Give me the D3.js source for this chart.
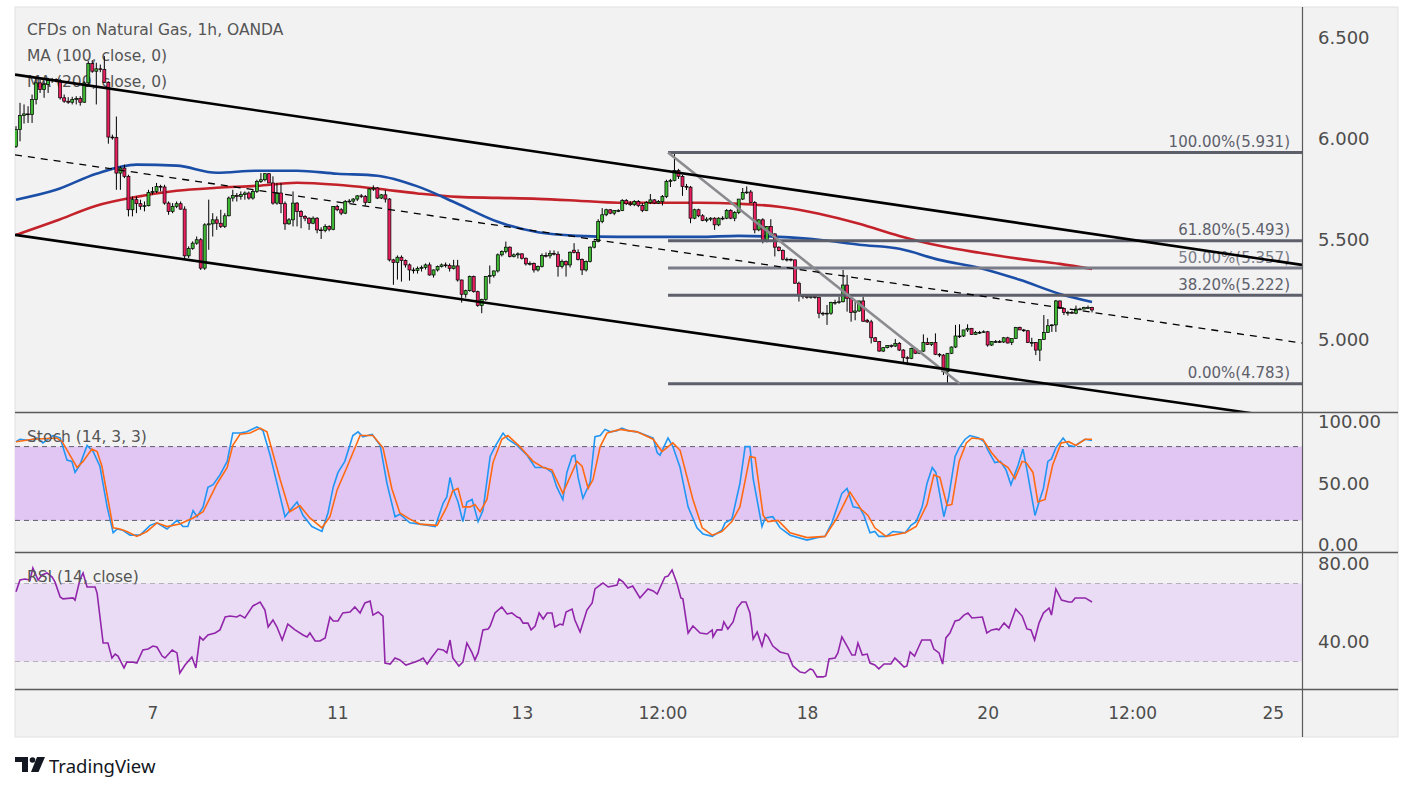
<!DOCTYPE html>
<html>
<head>
<meta charset="utf-8">
<script src="https://cdn.jsdelivr.net/npm/d3@7"></script>
<style>
  body { margin: 0; background: #ffffff; }
  svg text { font-family: "DejaVu Sans", "Noto Sans", sans-serif; }
</style>
</head>
<body>
<div id="chart"></div>
<script>
// hourly candles, [open, high, low, close]
const ohlc = [
[5.962,6.062,5.954,6.045],[6.045,6.178,5.987,6.115],[6.115,6.17,6.075,6.123],[6.123,6.161,6.078,6.12],
[6.12,6.219,6.078,6.194],[6.194,6.302,6.17,6.277],[6.277,6.294,6.227,6.244],[6.244,6.285,6.203,6.269],
[6.269,6.302,6.227,6.29],[6.29,6.302,6.277,6.294],[6.294,6.30,6.28,6.289],[6.289,6.297,6.194,6.203],
[6.203,6.219,6.178,6.186],[6.186,6.206,6.173,6.181],[6.181,6.208,6.17,6.194],[6.194,6.211,6.17,6.199],
[6.199,6.211,6.164,6.181],[6.181,6.285,6.178,6.277],[6.277,6.385,6.269,6.373],[6.373,6.39,6.327,6.335],
[6.335,6.377,6.17,6.347],[6.347,6.368,6.33,6.343],[6.343,6.41,6.277,6.28],[6.28,6.285,5.975,6.008],
[6.008,6.02,5.995,6.006],[6.006,6.11,5.746,5.829],[5.829,5.863,5.746,5.854],[5.854,5.871,5.804,5.813],
[5.813,5.821,5.614,5.647],[5.647,5.713,5.614,5.697],[5.697,5.713,5.63,5.677],[5.677,5.697,5.647,5.664],
[5.664,5.688,5.639,5.667],[5.667,5.746,5.664,5.733],[5.733,5.76,5.722,5.738],[5.738,5.78,5.73,5.763],
[5.763,5.771,5.738,5.76],[5.76,5.771,5.672,5.68],[5.68,5.688,5.622,5.639],[5.639,5.68,5.63,5.664],
[5.664,5.688,5.655,5.677],[5.677,5.688,5.647,5.65],[5.65,5.664,5.407,5.418],[5.418,5.465,5.407,5.455],
[5.455,5.49,5.448,5.481],[5.481,5.514,5.473,5.498],[5.498,5.506,5.348,5.357],[5.357,5.58,5.348,5.572],
[5.572,5.697,5.448,5.577],[5.577,5.63,5.514,5.597],[5.597,5.614,5.547,5.58],[5.58,5.647,5.556,5.564],
[5.564,5.63,5.556,5.617],[5.617,5.713,5.614,5.705],[5.705,5.746,5.688,5.718],[5.718,5.73,5.688,5.713],
[5.713,5.738,5.697,5.722],[5.722,5.738,5.697,5.73],[5.73,5.738,5.697,5.705],[5.705,5.746,5.697,5.738],
[5.738,5.796,5.73,5.788],[5.788,5.829,5.78,5.796],[5.796,5.829,5.788,5.826],[5.826,5.829,5.78,5.78],
[5.78,5.813,5.672,5.68],[5.68,5.78,5.672,5.73],[5.73,5.78,5.63,5.677],[5.677,5.688,5.547,5.577],
[5.577,5.606,5.572,5.597],[5.597,5.738,5.564,5.68],[5.68,5.685,5.564,5.638],[5.638,5.645,5.555,5.614],
[5.614,5.62,5.59,5.605],[5.605,5.61,5.547,5.58],[5.58,5.614,5.575,5.605],[5.605,5.61,5.53,5.547],
[5.547,5.56,5.502,5.544],[5.544,5.575,5.535,5.564],[5.564,5.57,5.54,5.55],[5.55,5.665,5.545,5.663],
[5.663,5.672,5.64,5.647],[5.647,5.655,5.62,5.63],[5.63,5.695,5.625,5.688],[5.688,5.70,5.68,5.69],
[5.69,5.705,5.68,5.70],[5.70,5.72,5.69,5.716],[5.716,5.725,5.705,5.713],[5.713,5.72,5.667,5.683],
[5.683,5.755,5.68,5.75],[5.75,5.768,5.74,5.755],[5.755,5.76,5.70,5.705],[5.705,5.725,5.70,5.721],
[5.721,5.745,5.683,5.70],[5.70,5.705,5.39,5.398],[5.398,5.403,5.274,5.385],[5.385,5.42,5.30,5.411],
[5.411,5.42,5.29,5.395],[5.395,5.40,5.36,5.373],[5.373,5.38,5.295,5.348],[5.348,5.36,5.33,5.345],
[5.345,5.365,5.33,5.356],[5.356,5.37,5.34,5.361],[5.361,5.38,5.35,5.373],[5.373,5.385,5.32,5.323],
[5.323,5.35,5.31,5.348],[5.348,5.37,5.34,5.365],[5.365,5.38,5.36,5.373],[5.373,5.385,5.36,5.37],
[5.37,5.38,5.34,5.356],[5.356,5.398,5.35,5.368],[5.368,5.398,5.29,5.298],[5.298,5.30,5.186,5.227],
[5.227,5.25,5.21,5.245],[5.245,5.32,5.24,5.315],[5.315,5.32,5.235,5.24],[5.24,5.245,5.165,5.171],
[5.171,5.205,5.133,5.202],[5.202,5.318,5.195,5.315],[5.315,5.37,5.28,5.32],[5.32,5.345,5.31,5.343],
[5.343,5.43,5.335,5.423],[5.423,5.445,5.415,5.439],[5.439,5.489,5.43,5.461],[5.461,5.465,5.41,5.415],
[5.415,5.43,5.41,5.423],[5.423,5.435,5.405,5.428],[5.428,5.43,5.40,5.406],[5.406,5.41,5.37,5.378],
[5.378,5.39,5.37,5.38],[5.38,5.385,5.335,5.348],[5.348,5.37,5.34,5.365],[5.365,5.43,5.36,5.42],
[5.42,5.435,5.41,5.418],[5.418,5.445,5.405,5.43],[5.43,5.445,5.42,5.426],[5.426,5.44,5.315,5.365],
[5.365,5.40,5.355,5.39],[5.39,5.395,5.315,5.373],[5.373,5.44,5.36,5.436],[5.446,5.481,5.43,5.434],
[5.434,5.45,5.395,5.40],[5.40,5.405,5.323,5.348],[5.348,5.395,5.34,5.39],[5.39,5.465,5.385,5.461],
[5.461,5.495,5.455,5.489],[5.489,5.60,5.485,5.589],[5.589,5.655,5.58,5.622],[5.622,5.652,5.615,5.647],
[5.647,5.65,5.625,5.63],[5.63,5.645,5.62,5.643],[5.643,5.65,5.635,5.643],[5.643,5.70,5.64,5.693],
[5.693,5.70,5.67,5.677],[5.677,5.69,5.665,5.672],[5.672,5.695,5.665,5.688],[5.688,5.695,5.66,5.668],
[5.668,5.68,5.635,5.643],[5.643,5.69,5.64,5.683],[5.683,5.725,5.675,5.696],[5.696,5.70,5.675,5.68],
[5.68,5.695,5.675,5.688],[5.688,5.72,5.668,5.713],[5.713,5.796,5.705,5.788],[5.788,5.80,5.76,5.793],
[5.793,5.935,5.788,5.842],[5.842,5.85,5.80,5.813],[5.813,5.82,5.716,5.763],[5.763,5.775,5.745,5.759],
[5.759,5.765,5.58,5.605],[5.605,5.652,5.60,5.647],[5.647,5.652,5.61,5.617],[5.617,5.625,5.59,5.594],
[5.594,5.61,5.585,5.60],[5.60,5.61,5.59,5.605],[5.605,5.61,5.547,5.572],[5.572,5.61,5.565,5.605],
[5.605,5.615,5.595,5.605],[5.605,5.65,5.60,5.643],[5.643,5.65,5.60,5.605],[5.605,5.64,5.59,5.633],
[5.633,5.70,5.625,5.70],[5.70,5.755,5.695,5.733],[5.733,5.763,5.725,5.735],[5.735,5.745,5.68,5.683],
[5.683,5.69,5.53,5.547],[5.547,5.60,5.54,5.597],[5.597,5.605,5.48,5.489],[5.489,5.565,5.485,5.564],
[5.564,5.60,5.52,5.527],[5.527,5.53,5.415,5.461],[5.461,5.465,5.44,5.444],[5.444,5.45,5.395,5.401],
[5.401,5.41,5.39,5.401],[5.401,5.405,5.39,5.398],[5.398,5.40,5.28,5.282],[5.282,5.29,5.191,5.219],
[5.219,5.225,5.205,5.216],[5.216,5.225,5.205,5.212],[5.212,5.225,5.205,5.216],[5.216,5.222,5.205,5.211],
[5.211,5.215,5.108,5.133],[5.133,5.14,5.12,5.129],[5.129,5.174,5.075,5.133],[5.133,5.19,5.125,5.187],
[5.187,5.2,5.175,5.187],[5.187,5.215,5.18,5.19],[5.19,5.348,5.187,5.273],[5.273,5.323,5.141,5.207],
[5.207,5.21,5.091,5.137],[5.137,5.19,5.098,5.144],[5.144,5.195,5.14,5.194],[5.194,5.215,5.091,5.093],
[5.098,5.105,5.085,5.09],[5.09,5.10,4.983,5.011],[5.011,5.015,4.99,4.992],[4.992,4.995,4.942,4.945],
[4.945,4.965,4.94,4.962],[4.962,4.975,4.958,4.972],[4.972,4.978,4.962,4.97],[4.97,5.005,4.965,4.983],
[4.983,4.99,4.945,4.95],[4.95,4.955,4.884,4.912],[4.912,4.92,4.875,4.909],[4.909,4.962,4.905,4.958],
[4.958,4.962,4.93,4.934],[4.934,4.948,4.93,4.945],[4.945,5.028,4.94,4.988],[4.988,5.011,4.975,4.978],
[4.978,4.99,4.97,4.988],[4.988,5.033,4.925,4.929],[4.929,4.935,4.915,4.925],[4.925,4.93,4.826,4.842],
[4.842,4.935,4.785,4.934],[4.934,4.968,4.93,4.965],[4.965,5.075,4.96,5.02],[5.02,5.078,5.01,5.02],
[5.02,5.05,5.015,5.05],[5.05,5.078,5.04,5.058],[5.058,5.06,5.025,5.028],[5.028,5.045,5.025,5.038],
[5.038,5.045,5.03,5.038],[5.038,5.048,5.035,5.041],[5.041,5.045,4.967,4.975],[4.975,4.995,4.97,4.992],
[4.992,5.0,4.985,4.992],[4.992,5.0,4.985,4.99],[4.99,5.015,4.985,5.011],[5.011,5.016,4.983,4.985],
[4.988,5.0,4.975,5.008],[5.008,5.065,5.005,5.063],[5.063,5.066,5.05,5.05],[5.05,5.055,5.04,5.046],
[5.046,5.05,4.985,4.988],[4.988,5.011,4.967,4.988],[4.988,4.99,4.925,4.95],[4.95,5.003,4.895,5.003],
[5.003,5.124,5.0,5.038],[5.038,5.104,5.035,5.071],[5.071,5.078,5.04,5.075],[5.075,5.199,5.04,5.194],
[5.194,5.196,5.155,5.157],[5.157,5.16,5.124,5.137],[5.137,5.145,5.121,5.137],[5.137,5.145,5.13,5.133],
[5.133,5.171,5.128,5.154],[5.154,5.16,5.148,5.154],[5.154,5.165,5.152,5.161],[5.161,5.171,5.155,5.161],
[5.161,5.165,5.137,5.149]
];

// moving averages, sampled at these bar indices
const maIdx = [0,10,20,30,40,50,60,70,80,90,100,110,120,130,140,150,160,170,180,190,200,210,220,230,240,250,260,268];
const ma100 = [5.697,5.746,5.826,5.871,5.866,5.831,5.841,5.841,5.826,5.816,5.763,5.677,5.587,5.535,5.517,5.512,5.512,5.512,5.517,5.512,5.498,5.473,5.453,5.398,5.358,5.299,5.229,5.189];
const ma200 = [5.522,5.592,5.667,5.711,5.741,5.756,5.766,5.781,5.771,5.751,5.728,5.711,5.706,5.701,5.692,5.682,5.682,5.682,5.677,5.662,5.627,5.577,5.517,5.468,5.433,5.403,5.378,5.353];

// stochastic %K and %D, [bar index, value]
const stochK = [[0,84],[1,86],[3.5,85],[5.2,87],[6.7,83],[9.2,89],[11,87],[12.7,69],[13.9,68],[14.7,59],[15.9,65],[17.7,81],[19.2,76],[20.9,64],[22.7,31],[24.2,10],[25.2,13],[26.6,12],[28.4,8],[30.9,8],[33.4,16],[35.1,18],[37.6,13],[40.1,20],[41.6,15],[42.8,15],[44.1,28],[45.1,23],[46.6,31],[47.8,47],[49.1,49],[50.8,57],[52.6,68],[54,91],[55.8,91],[57.5,92],[60,96],[61.5,93],[63.3,73],[65.3,46],[67,23],[68.2,28],[70,35],[71.5,24],[73.7,15],[76.2,11],[77.7,26],[79,47],[80.2,59],[81.9,68],[83.9,89],[85.2,92],[86.4,88],[88.7,90],[90.7,81],[92.4,50],[94.4,23],[95.6,25],[98.1,18],[100.6,17],[102.4,16],[104.4,15],[106.4,34],[107.3,39],[108.1,55],[108.8,46],[110.1,35],[111.3,19],[112.3,35],[113.6,37],[115.1,19],[116.3,28],[118.1,72],[119.3,80],[121.3,91],[122.5,86],[124.8,81],[127.3,73],[129.3,63],[131.8,63],[133.5,59],[134.7,47],[136.2,37],[137.2,59],[138.5,72],[139.2,73],[140,55],[141.2,38],[143,51],[144.2,88],[145.5,89],[146.7,94],[148,92],[149.7,93],[150.9,95],[152.4,93],[154.7,92],[158.7,87],[159.7,75],[160.4,73],[162.4,87],[163.6,80],[165.4,63],[167.4,31],[169.6,14],[171.1,9],[173.4,7],[175.8,12],[176.6,18],[178.3,21],[180.3,50],[181.6,80],[182.8,80],[183.6,54],[185.8,15],[186.6,22],[188.5,23],[190.3,14],[192.8,8],[197,4],[199.5,6],[201.5,7],[203.2,18],[205.7,42],[207,46],[208.5,31],[210.2,30],[211.2,24],[212.7,10],[213.9,11],[214.9,7],[216.7,7],[218.4,11],[221.5,10],[222.9,16],[224.2,19],[225.7,31],[226.9,50],[228.2,63],[229.1,59],[231.1,23],[232.3,39],[233.9,72],[234.9,79],[236.4,86],[237.6,89],[239.8,87],[241.1,84],[242.1,77],[243.8,67],[245.2,68],[246.6,61],[247.8,49],[249.6,65],[250.8,78],[251.8,61],[253.8,24],[255,37],[255.9,46],[257,68],[257.9,70],[259,79],[260.8,87],[262.2,81],[263.5,80],[264.8,83],[266.3,86],[268,85]];
const stochD = [[0,84],[4.2,86],[10.2,87],[11.5,84],[15.2,63],[16.7,68],[18.9,78],[20.2,76],[21.4,64],[24.2,14],[25.9,13],[27.6,11],[30.1,7],[32.6,11],[35.1,18],[37.6,15],[40.8,17],[44.1,22],[46.6,27],[50.1,50],[52.6,63],[54,81],[55.8,90],[58.3,91],[60.8,95],[62.5,92],[65.8,53],[68.2,27],[70.7,32],[73.2,22],[76.2,14],[78.2,23],[80,45],[82.4,63],[85.7,89],[88.9,89],[91.4,79],[93.6,46],[95.6,26],[98.1,21],[100.6,17],[104.9,16],[107.3,31],[108.8,44],[110.1,46],[111.3,31],[113.1,31],[114.3,33],[115.6,27],[117.3,37],[118.8,67],[121,86],[122.5,89],[125.5,80],[128.8,68],[131.3,63],[133.5,61],[136.2,42],[139.7,68],[141,64],[142.5,46],[143.7,53],[145.5,80],[147.2,91],[150.4,94],[154.7,92],[158.7,86],[160.9,76],[163.6,83],[165.4,77],[168.6,37],[170.9,14],[173.4,8],[175.8,11],[178.3,19],[180.3,31],[182.8,72],[184.1,71],[186.1,24],[187.3,19],[189.8,20],[192.8,10],[197,6],[201.5,7],[204.5,22],[207.7,43],[210.5,29],[212.2,24],[213.9,14],[216.7,7],[221.5,10],[224.2,15],[226.9,33],[228.6,57],[230.1,55],[231.9,32],[233.1,33],[234.9,68],[236.7,83],[238.1,87],[240.8,86],[243,75],[244.8,68],[247.1,63],[248.8,54],[250.6,68],[251.6,67],[253.3,59],[254.5,35],[256.3,37],[258.2,65],[260.3,83],[262.2,84],[264,81],[266.3,86],[268,86]];

// RSI, [bar index, value]
const rsi = [[0,65.8],[1,71.8],[2.2,72.3],[3.5,71.8],[4.2,77.9],[5.5,71.8],[6.5,74.4],[7.7,75.4],[9,73.3],[9.7,70.8],[11,63.1],[11.7,62.1],[14.2,62.6],[14.7,61.5],[15.9,71.8],[16.7,75.4],[17.7,68.2],[19.7,68.2],[20.2,65.1],[21.7,39.5],[22.9,39.5],[23.9,31.8],[24.7,33.8],[25.4,32.8],[26.9,26.7],[27.6,29.7],[28.9,29.7],[30.1,29.2],[31.6,35.9],[32.9,36.4],[34.1,37.9],[35.1,37.4],[36.4,32.8],[37.1,31.8],[38.9,35.9],[40.1,34.4],[40.8,24.1],[42.1,28.2],[43.8,32.3],[44.8,26.7],[45.8,42.6],[46.6,41],[47.8,43.6],[49.6,44.6],[50.8,46.2],[52.1,52.8],[53.3,53.3],[55,52.8],[55.8,53.8],[57,52.3],[59,58.5],[60.8,60.5],[62,56.4],[62.8,47.7],[64,51.3],[65,47.7],[66.3,41],[67.7,49.2],[69.5,46.2],[71.5,43.6],[72.5,42.6],[73.2,44.6],[74.5,40.5],[75.7,40.5],[77,42.1],[78.2,52.8],[79,50.8],[80.2,50.8],[81.4,54.9],[83.2,55.4],[84.4,58],[85.7,54.9],[86.9,60],[88.2,61],[88.9,53.8],[90.2,55.4],[91.4,53.3],[91.9,29.2],[93.2,28.7],[94.4,31.8],[95.6,30.8],[97.1,28.2],[99.4,29.7],[100.6,30.8],[101.4,31.8],[102.4,28.7],[103.6,32.3],[105.1,36.4],[106.4,35.9],[107.3,34.4],[108.1,41],[108.8,31.8],[110.3,27.7],[111.3,29.7],[112.3,39.5],[113.6,34.4],[114.3,30.8],[115.1,34.4],[116.3,46.2],[117.6,46.7],[118.1,48.2],[119.3,54.9],[121,58],[122.3,54.4],[123.5,54.9],[124.8,52.8],[125.5,52.3],[126.3,49.7],[127.5,49.7],[128.3,46.2],[129.3,48.2],[130.3,54.9],[131.3,51.8],[132.3,54.9],[133.5,54.9],[134.2,47.7],[135.5,49.2],[136.2,48.7],[137,55.4],[138.5,56.9],[139.2,51.3],[140.5,45.1],[142.2,56.4],[143.5,60],[144.2,67.2],[146.2,70.3],[147.5,68.2],[149.7,69.2],[150.2,72.3],[151.2,70.8],[152.4,67.7],[153.6,68.7],[155.4,62.6],[157.4,67.2],[158.7,66.2],[159.7,64.6],[161.6,73.3],[162.4,73.8],[163.4,76.9],[164.6,70.3],[165.6,62.6],[166.1,62.1],[167.4,44.6],[168.6,48.2],[170.4,44.6],[172.1,44.1],[173.4,46.2],[173.6,42.6],[174.6,46.2],[175.8,46.2],[176.3,50.3],[177.3,46.7],[178.6,50.3],[179.6,57.4],[180.8,60.5],[181.8,60.5],[182.8,54.9],[183.6,41.5],[184.6,45.1],[185.8,37.9],[186.6,44.1],[187.3,42.6],[188.5,37.9],[190.3,34.9],[192.3,33.8],[193.5,27.7],[195.3,24.6],[196.5,24.1],[197.8,26.2],[198.5,25.6],[199.5,22.1],[201,22.1],[201.7,22.6],[202.5,31.3],[204,31.8],[204.7,34.4],[205.7,42.6],[207,37.9],[208.2,33.3],[209,33.3],[209.7,39.5],[210.8,33.3],[212,33.8],[212.7,29.2],[213.9,28.2],[214.9,26.2],[216.2,28.7],[217.9,28.7],[218.9,31.8],[220.2,29.2],[221.2,27.2],[221.9,27.7],[222.7,34.9],[223.8,32.8],[224.7,36.9],[225.6,41],[227.8,41],[228.6,36.4],[229.9,34.4],[230.8,28.7],[231.6,42.1],[232.6,44.6],[233.9,50.8],[234.9,51.3],[236.1,53.8],[237.1,54.9],[238.1,52.3],[240.7,52.8],[241.8,44.6],[243,46.2],[244.3,46.7],[244.8,46.2],[246.1,49.7],[247.3,47.2],[249,56.9],[250.6,53.3],[251.8,46.7],[252.8,46.2],[253.7,41],[254.8,49.7],[255.9,54.9],[257.3,57.4],[257.9,53.8],[259,67.2],[260.4,61.5],[262.2,60.5],[263,60.5],[263.8,62.6],[266.3,62.6],[268,60.5]];

// drawings: channel, mid line, fibonacci retracement ([bar index, price])
const channelUpper = [[-0.25,6.318],[320.3,5.373]];
const channelLower = [[-0.25,5.522],[320.3,4.60]];
const channelMid = [[-0.25,5.92],[320.3,4.985]];
const fibStart = 162.4;
const fibEnd = 320.3;
const fibPcts = ["100.00%","61.80%","50.00%","38.20%","0.00%"];
const fibPrices = [5.931,5.493,5.357,5.222,4.783];
const fibTrend = [[162.4,5.931],[235.1,4.783]];

// axes
const priceTicks = [5.0,5.5,6.0,6.5];
const stochTicks = [0,50,100];
const rsiTicks = [40,80];
const timeTickIdx = [34,80,126,161,197,242,278,313];
const timeTickLabels = ["7","11","13","12:00","18","20","12:00","25"];

var width = 1413;
var height = 791;
var boxLeft = 15, plotRight = 1302, boxRight = 1398, boxTop = 7, boxBottom = 737;
var priceBottom = 412.5, stochBottom = 552.5, rsiBottom = 689.5;

var green = "#3fb834";
var red = "#ea1f5e";
var textGrey = "#555555";

const x = d3.scaleLinear().domain([-0.25, 320.3]).range([boxLeft, plotRight]);
const yPrice = d3.scaleLinear().domain([6.5, 5.0]).range([38, 340]);
const yStoch = d3.scaleLinear().domain([100, 0]).range([422, 545]);
const yRsi = d3.scaleLinear().domain([80, 40]).range([564, 642]);

const svg = d3.select("#chart")
  .append("svg")
  .attr("width", width)
  .attr("height", height);

svg.append("rect")
  .attr("x", boxLeft).attr("y", boxTop)
  .attr("width", boxRight - boxLeft).attr("height", boxBottom - boxTop)
  .attr("fill", "#f2f2f2")
  .attr("stroke", "#e2e2e2");

const defs = svg.append("defs");
function addClip(id, y0, y1) {
  defs.append("clipPath").attr("id", id)
    .append("rect")
    .attr("x", boxLeft).attr("y", y0)
    .attr("width", plotRight - boxLeft).attr("height", y1 - y0);
}
addClip("clipPrice", boxTop, priceBottom);
addClip("clipStoch", priceBottom, stochBottom);
addClip("clipRsi", stochBottom, rsiBottom);

// ---------- price pane ----------
const legend = svg.append("g").attr("fill", textGrey).style("font-size", "15.5px");
legend.append("text").attr("x", 27).attr("y", 35).text("CFDs on Natural Gas, 1h, OANDA");
legend.append("text").attr("x", 27).attr("y", 61).text("MA (100, close, 0)");
legend.append("text").attr("x", 27).attr("y", 87).text("MA (200, close, 0)");

const price = svg.append("g").attr("clip-path", "url(#clipPrice)");

const maLine = d3.line()
  .x(d => x(d[0]))
  .y(d => yPrice(d[1]))
  .curve(d3.curveMonotoneX);

price.append("path")
  .datum(maIdx.map((v, i) => [v, ma200[i]]))
  .attr("d", maLine)
  .attr("fill", "none").attr("stroke", "#c4222b").attr("stroke-width", 2.6);

price.append("path")
  .datum(maIdx.map((v, i) => [v, ma100[i]]))
  .attr("d", maLine)
  .attr("fill", "none").attr("stroke", "#1b4ea6").attr("stroke-width", 2.6);

// candles
price.selectAll("line.wick")
  .data(ohlc)
  .enter()
  .append("line")
  .attr("class", "wick")
  .attr("x1", (d, i) => x(i)).attr("x2", (d, i) => x(i))
  .attr("y1", d => yPrice(d[1])).attr("y2", d => yPrice(d[2]))
  .attr("stroke", "#000").attr("stroke-width", 1);

price.selectAll("rect.body")
  .data(ohlc)
  .enter()
  .append("rect")
  .attr("class", "body")
  .attr("x", (d, i) => x(i) - 1.5)
  .attr("width", 3)
  .attr("y", d => yPrice(Math.max(d[0], d[3])))
  .attr("height", d => Math.max(0.8, Math.abs(yPrice(d[0]) - yPrice(d[3]))))
  .attr("fill", d => d[3] >= d[0] ? green : red)
  .attr("stroke", "#000")
  .attr("stroke-width", 0.7);

// fibonacci levels
const fib = price.append("g");
fib.selectAll("line")
  .data(fibPrices)
  .enter()
  .append("line")
  .attr("x1", x(fibStart)).attr("x2", x(fibEnd))
  .attr("y1", d => yPrice(d)).attr("y2", d => yPrice(d))
  .attr("stroke", (d, i) => i == 2 ? "#7a7d88" : "#5d606b")
  .attr("stroke-width", 3);

fib.selectAll("text")
  .data(fibPrices)
  .enter()
  .append("text")
  .attr("x", x(fibEnd) - 12)
  .attr("y", d => yPrice(d) - 5.5)
  .attr("text-anchor", "end")
  .attr("fill", (d, i) => i == 2 ? "#7a7d88" : "#5d606b")
  .style("font-size", "15px")
  .text((d, i) => fibPcts[i] + "(" + d.toFixed(3) + ")");

const segLine = d3.line().x(d => x(d[0])).y(d => yPrice(d[1]));

price.append("path")
  .datum(fibTrend)
  .attr("d", segLine)
  .attr("fill", "none").attr("stroke", "#8a8a8f").attr("stroke-width", 2.6);

// channel
price.append("path").datum(channelUpper).attr("d", segLine)
  .attr("fill", "none").attr("stroke", "#000").attr("stroke-width", 2.6);
price.append("path").datum(channelLower).attr("d", segLine)
  .attr("fill", "none").attr("stroke", "#000").attr("stroke-width", 2.6);
price.append("path").datum(channelMid).attr("d", segLine)
  .attr("fill", "none").attr("stroke", "#000").attr("stroke-width", 1.3)
  .attr("stroke-dasharray", "7,6");

// ---------- stochastic pane ----------
const stoch = svg.append("g").attr("clip-path", "url(#clipStoch)");
stoch.append("rect")
  .attr("x", boxLeft).attr("width", plotRight - boxLeft)
  .attr("y", yStoch(80)).attr("height", yStoch(20) - yStoch(80))
  .attr("fill", "#e1c6f4");
[80, 20].forEach(function(v) {
  stoch.append("line")
    .attr("x1", boxLeft).attr("x2", plotRight)
    .attr("y1", yStoch(v)).attr("y2", yStoch(v))
    .attr("stroke", "#5f5f66").attr("stroke-width", 1)
    .attr("stroke-dasharray", "5,4");
});
svg.append("text").attr("x", 27).attr("y", 442)
  .attr("fill", textGrey).style("font-size", "15.5px").text("Stoch (14, 3, 3)");

const stochLine = d3.line().x(d => x(d[0])).y(d => yStoch(d[1]));
stoch.append("path").datum(stochK).attr("d", stochLine)
  .attr("fill", "none").attr("stroke", "#2196f3").attr("stroke-width", 1.6);
stoch.append("path").datum(stochD).attr("d", stochLine)
  .attr("fill", "none").attr("stroke", "#ff6a13").attr("stroke-width", 1.6);

// ---------- RSI pane ----------
const rsiG = svg.append("g").attr("clip-path", "url(#clipRsi)");
rsiG.append("rect")
  .attr("x", boxLeft).attr("width", plotRight - boxLeft)
  .attr("y", yRsi(70)).attr("height", yRsi(30) - yRsi(70))
  .attr("fill", "#e9dcf4");
[70, 30].forEach(function(v) {
  rsiG.append("line")
    .attr("x1", boxLeft).attr("x2", plotRight)
    .attr("y1", yRsi(v)).attr("y2", yRsi(v))
    .attr("stroke", "#b5b0bb").attr("stroke-width", 1)
    .attr("stroke-dasharray", "5,4");
});
svg.append("text").attr("x", 27).attr("y", 582)
  .attr("fill", textGrey).style("font-size", "15.5px").text("RSI (14, close)");

rsiG.append("path")
  .datum(rsi)
  .attr("d", d3.line().x(d => x(d[0])).y(d => yRsi(d[1])))
  .attr("fill", "none").attr("stroke", "#9226ab").attr("stroke-width", 1.6);

// ---------- frame & axes ----------
[priceBottom, stochBottom, rsiBottom].forEach(function(yy) {
  svg.append("line")
    .attr("x1", boxLeft).attr("x2", boxRight)
    .attr("y1", yy).attr("y2", yy)
    .attr("stroke", "#5a5a5a").attr("stroke-width", 1.3);
});
svg.append("line")
  .attr("x1", plotRight + 0.5).attr("x2", plotRight + 0.5)
  .attr("y1", boxTop).attr("y2", boxBottom)
  .attr("stroke", "#5a5a5a").attr("stroke-width", 1.2);

function styleAxis(g, size) {
  g.select(".domain").remove();
  g.selectAll("text")
    .attr("fill", "#4d4d4d")
    .style("font-size", size)
    .style("font-family", "\"DejaVu Sans\", sans-serif");
}

svg.append("g")
  .attr("transform", "translate(" + plotRight + ",0)")
  .call(d3.axisRight(yPrice).tickValues(priceTicks).tickSize(0).tickPadding(16).tickFormat(d3.format(".3f")))
  .call(g => styleAxis(g, "18px"));

svg.append("g")
  .attr("transform", "translate(" + plotRight + ",0)")
  .call(d3.axisRight(yStoch).tickValues(stochTicks).tickSize(0).tickPadding(16).tickFormat(d3.format(".2f")))
  .call(g => styleAxis(g, "18px"));

svg.append("g")
  .attr("transform", "translate(" + plotRight + ",0)")
  .call(d3.axisRight(yRsi).tickValues(rsiTicks).tickSize(0).tickPadding(16).tickFormat(d3.format(".2f")))
  .call(g => styleAxis(g, "18px"));

svg.append("g")
  .attr("transform", "translate(0," + rsiBottom + ")")
  .call(d3.axisBottom(x).tickValues(timeTickIdx).tickSize(0).tickPadding(17)
    .tickFormat((d, i) => timeTickLabels[i]))
  .call(g => styleAxis(g, "17px"));

// ---------- TradingView mark ----------
const logo = svg.append("g").attr("fill", "#131722");
logo.append("path").attr("d", "M15,757 H28 V772 H22 V762 H15 Z");
logo.append("circle").attr("cx", 32.5).attr("cy", 760).attr("r", 2.8);
logo.append("path").attr("d", "M37,757 H45 L38.5,772 H31 Z");
logo.append("text")
  .attr("x", 49).attr("y", 772.5)
  .style("font-size", "18.5px")
  .style("font-family", "\"Noto Sans\", \"DejaVu Sans\", sans-serif")
  .text("TradingView");
</script>
</body>
</html>
